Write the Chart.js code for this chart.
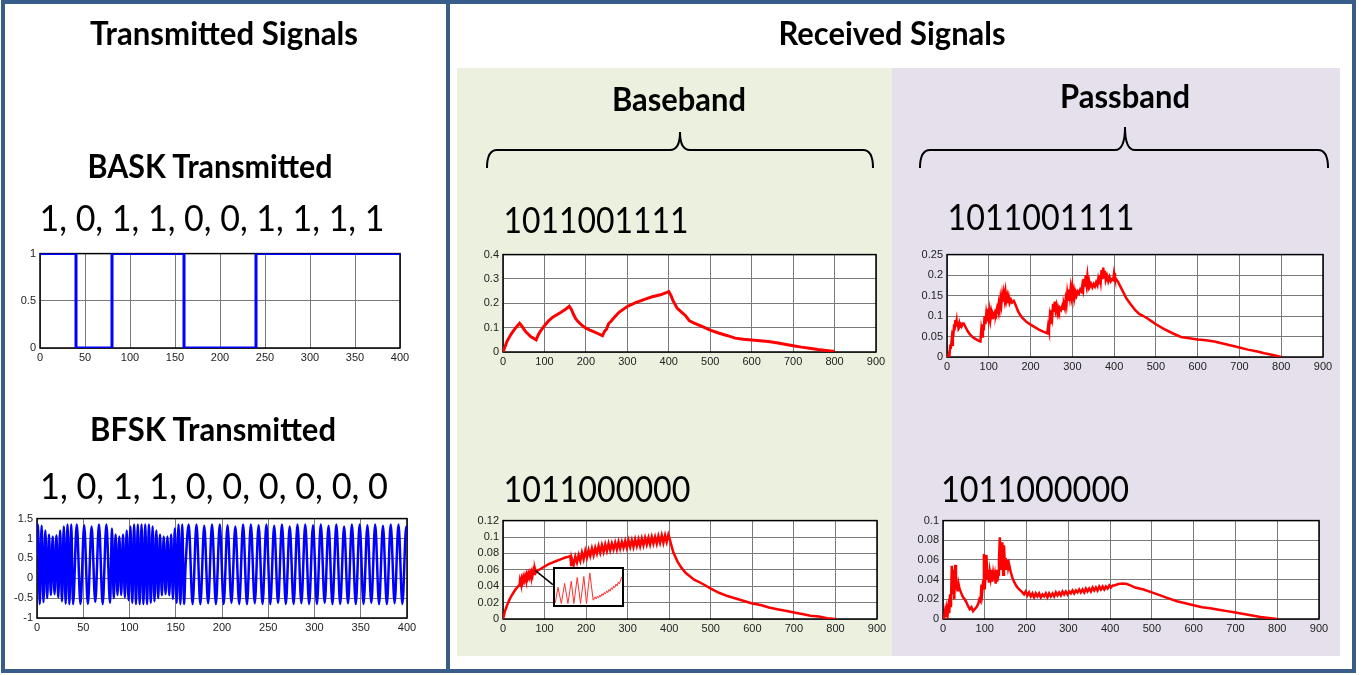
<!DOCTYPE html>
<html>
<head>
<meta charset="utf-8">
<script src="https://cdn.jsdelivr.net/npm/chart.js@4.4.1/dist/chart.umd.min.js"></script>
<style>
  body { margin: 0; background: #fff; }
  #wrap { position: relative; width: 1363px; height: 675px; overflow: hidden; }
  .frame { position: absolute; left: 1px; top: 0; width: 1355px; height: 673px; border: 4px solid #385d8a; box-sizing: border-box; }
  .divider { position: absolute; left: 446px; top: 0; width: 4px; height: 673px; background: #385d8a; }
  .band { position: absolute; top: 68px; height: 588px; }
  canvas { position: absolute; }
  svg { position: absolute; left: 0; top: 0; }
  .t { font-family: Lato, sans-serif; fill: #000; }
</style>
</head>
<body>
<div id="wrap">
  <div class="band" style="left:457px;width:435px;background:#ebf1de"></div>
  <div class="band" style="left:892px;width:448px;background:#e5e0ec"></div>
  <div class="frame"></div>
  <div class="divider"></div>
  <svg width="1363" height="675">
    <text class="t" x="224" y="45" font-size="32" font-weight="700" text-anchor="middle" textLength="268" lengthAdjust="spacingAndGlyphs">Transmitted Signals</text>
    <text class="t" x="892" y="45" font-size="32" font-weight="700" text-anchor="middle" textLength="227" lengthAdjust="spacingAndGlyphs">Received Signals</text>
    <text class="t" x="679" y="111" font-size="32" font-weight="700" text-anchor="middle" textLength="134" lengthAdjust="spacingAndGlyphs">Baseband</text>
    <text class="t" x="1125" y="108" font-size="32" font-weight="700" text-anchor="middle" textLength="130" lengthAdjust="spacingAndGlyphs">Passband</text>
    <text class="t" x="210" y="178" font-size="32" font-weight="700" text-anchor="middle" textLength="245" lengthAdjust="spacingAndGlyphs">BASK Transmitted</text>
    <text class="t" x="213" y="441" font-size="32" font-weight="700" text-anchor="middle" textLength="246" lengthAdjust="spacingAndGlyphs">BFSK Transmitted</text>
    <text class="t" x="212" y="231" font-size="36" text-anchor="middle" textLength="345" lengthAdjust="spacingAndGlyphs">1, 0, 1, 1, 0, 0, 1, 1, 1, 1</text>
    <text class="t" x="214" y="499" font-size="36" text-anchor="middle" textLength="348" lengthAdjust="spacingAndGlyphs">1, 0, 1, 1, 0, 0, 0, 0, 0, 0</text>
    <text class="t" x="596" y="233" font-size="36" text-anchor="middle" textLength="185" lengthAdjust="spacingAndGlyphs">1011001111</text>
    <text class="t" x="1041" y="230" font-size="36" text-anchor="middle" textLength="187" lengthAdjust="spacingAndGlyphs">1011001111</text>
    <text class="t" x="597" y="502" font-size="36" text-anchor="middle" textLength="187" lengthAdjust="spacingAndGlyphs">1011000000</text>
    <text class="t" x="1035" y="502" font-size="36" text-anchor="middle" textLength="188" lengthAdjust="spacingAndGlyphs">1011000000</text>
    <path d="M487,168 Q487,150 497,150 L670,150 Q680,150 680,132 Q680,150 690,150 L863,150 Q873,150 873,168" fill="none" stroke="#000" stroke-width="2"/>
    <path d="M920,168 Q920,150 930,150 L1115,150 Q1125,150 1125,127 Q1125,150 1135,150 L1318,150 Q1328,150 1328,168" fill="none" stroke="#000" stroke-width="2"/>
  </svg>
</div>
<script>
// ---- data ----
const baskX = [0, 40, 40, 80, 80, 160, 160, 240, 240, 400];
const baskY = [1, 1, 0, 0, 1, 1, 0, 0, 1, 1];
const baskXTicks = [0, 50, 100, 150, 200, 250, 300, 350, 400];
const baskYTicks = [0, 0.5, 1];

const bfskX = [0, 1, 3, 5, 7, 9, 11, 13, 15, 17, 19, 21, 23, 25, 27, 29, 31, 33, 35, 37, 39,
  43, 47, 51, 55, 59, 63, 67, 71, 75, 79,
  81, 83, 85, 87, 89, 91, 93, 95, 97, 99, 101, 103, 105, 107, 109, 111, 113, 115, 117, 119,
  121, 123, 125, 127, 129, 131, 133, 135, 137, 139, 141, 143, 145, 147, 149, 151, 153, 155, 157, 159,
  160.5, 164, 168.2, 172.4, 176.6, 180.8, 185, 189.2, 193.4, 197.6, 201.8, 206, 210.2, 214.4, 218.6,
  222.8, 227, 231.2, 235.4, 239.6, 243.8, 248, 252.2, 256.4, 260.6, 264.8, 269, 273.2, 277.4, 281.6,
  285.8, 290, 294.2, 298.4, 302.6, 306.8, 311, 315.2, 319.4, 323.6, 327.8, 332, 336.2, 340.4, 344.6,
  348.8, 353, 357.2, 361.4, 365.6, 369.8, 374, 378.2, 382.4, 386.6, 390.8, 395, 399.2, 400];
const bfskY = [0.6, 1.35, -0.65, 1.32, -0.6, 1.2, -0.5, 1.1, -0.42, 1.05, -0.4, 1.08, -0.48, 1.2, -0.58, 1.3, -0.64, 1.35, -0.65, 1.35, -0.65,
  1.35, -0.65, 1.33, -0.65, 1.3, -0.6, 1.35, -0.65, 1.35, -0.62,
  1.25, -0.5, 1.1, -0.42, 1.05, -0.42, 1.1, -0.48, 1.2, -0.55, 1.3, -0.62, 1.35, -0.65, 1.35, -0.65, 1.35, -0.65, 1.35, -0.65,
  1.35, -0.62, 1.3, -0.58, 1.2, -0.5, 1.1, -0.43, 1.05, -0.4, 1.05, -0.43, 1.1, -0.52, 1.25, -0.62, 1.35, -0.65, 1.35, -0.65,
  0.25, 1.35, -0.65, 1.35, -0.65, 1.32, -0.63, 1.35, -0.65, 1.35, -0.65, 1.33, -0.62, 1.3, -0.65,
  1.35, -0.65, 1.35, -0.63, 1.33, -0.65, 1.35, -0.65, 1.32, -0.62, 1.35, -0.65, 1.3, -0.65, 1.35,
  -0.63, 1.35, -0.65, 1.33, -0.65, 1.35, -0.62, 1.32, -0.65, 1.35, -0.65, 1.3, -0.63, 1.35, -0.65,
  1.35, -0.65, 1.33, -0.62, 1.35, -0.65, 1.32, -0.65, 1.35, -0.63, 1.35, -0.65, 1.3, 1.15];
const bfskXTicks = [0, 50, 100, 150, 200, 250, 300, 350, 400];
const bfskYTicks = [-1, -0.5, 0, 0.5, 1, 1.5];

const base1X = [0, 10, 20, 30, 40, 45, 50, 55, 60, 65, 70, 75, 80, 85, 90, 100, 110, 120, 130, 140, 150, 160,
  165, 170, 175, 180, 190, 200, 210, 220, 230, 240, 245, 250, 255, 260, 270, 280, 290, 300, 320, 340, 360, 380, 400,
  405, 410, 420, 430, 440, 450, 460, 480, 500, 520, 540, 560, 580, 600, 620, 640, 660, 680, 700, 720, 740, 760, 780, 800];
const base1Y = [0, 0.045, 0.075, 0.098, 0.118, 0.108, 0.095, 0.083, 0.075, 0.066, 0.06, 0.055, 0.05, 0.07, 0.085, 0.108, 0.128, 0.143, 0.153, 0.163, 0.174, 0.188,
  0.175, 0.155, 0.138, 0.127, 0.11, 0.098, 0.09, 0.083, 0.075, 0.067, 0.085, 0.095, 0.117, 0.125, 0.145, 0.163, 0.175, 0.187, 0.203, 0.215, 0.227, 0.235, 0.248,
  0.233, 0.212, 0.18, 0.165, 0.15, 0.128, 0.12, 0.105, 0.09, 0.078, 0.068, 0.057, 0.052, 0.049, 0.046, 0.043, 0.038, 0.032, 0.026, 0.02, 0.015, 0.01, 0.006, 0.002];
const base1YTicks = [0, 0.1, 0.2, 0.3, 0.4];

const pass1X = [0, 3, 5, 6, 8, 9, 11, 12, 14, 15, 17, 18, 20, 21, 23, 24, 26, 27, 29, 30, 33, 35, 38, 40,
  45, 50, 55, 60, 65, 70, 75, 80,
  82, 84, 86, 88, 90, 92, 94, 96, 98, 100, 102, 104, 106, 108, 110, 112, 115, 117, 120, 122, 124, 126, 128, 130,
  132, 134, 136, 138, 140, 142, 144, 146, 148, 150, 153, 156, 160,
  165, 170, 175, 180, 190, 200, 210, 220, 230, 240,
  242, 244, 246, 248, 250, 252, 254, 256, 258, 260, 262, 264, 266, 268, 270, 273, 276, 278, 280, 282, 284, 286, 288, 290,
  292, 294, 296, 298, 300, 302, 304, 306, 308, 310, 313, 316, 319, 322, 324, 326, 328, 330, 332, 334, 336, 338, 340, 342,
  345, 348, 351, 354, 357, 360, 362, 364, 366, 368, 370, 372, 374, 376, 378, 380, 383, 386, 389, 392, 395, 398, 400, 402,
  410, 420, 430, 440, 450, 460, 470, 480, 490, 500, 520, 540, 560, 580, 600, 620, 640, 660, 680, 700, 720, 740, 760, 780, 800];
const pass1Y = [0, 0.003, 0.01, 0.005, 0.03, 0.02, 0.04, 0.03, 0.065, 0.05, 0.08, 0.065, 0.09, 0.075, 0.088, 0.077, 0.085, 0.075, 0.082, 0.074, 0.08, 0.075, 0.082, 0.082,
  0.072, 0.062, 0.055, 0.05, 0.046, 0.043, 0.04, 0.038,
  0.065, 0.05, 0.08, 0.065, 0.1, 0.08, 0.105, 0.09, 0.118, 0.095, 0.112, 0.092, 0.108, 0.095, 0.105, 0.1, 0.11, 0.105, 0.12, 0.112, 0.13, 0.118, 0.142, 0.128,
  0.15, 0.135, 0.155, 0.14, 0.158, 0.138, 0.148, 0.132, 0.145, 0.132, 0.14, 0.133, 0.137,
  0.125, 0.112, 0.103, 0.096, 0.086, 0.079, 0.073, 0.067, 0.062, 0.058,
  0.075, 0.065, 0.095, 0.08, 0.115, 0.1, 0.13, 0.11, 0.135, 0.115, 0.125, 0.11, 0.12, 0.112, 0.12, 0.115, 0.125, 0.118, 0.128, 0.12, 0.14, 0.128, 0.155, 0.14,
  0.165, 0.148, 0.168, 0.15, 0.17, 0.15, 0.162, 0.148, 0.158, 0.15, 0.16, 0.155, 0.165, 0.16, 0.175, 0.165, 0.19, 0.172, 0.2, 0.18, 0.198, 0.175, 0.185, 0.172,
  0.178, 0.17, 0.178, 0.172, 0.182, 0.175, 0.19, 0.18, 0.2, 0.185, 0.212, 0.19, 0.218, 0.195, 0.21, 0.188, 0.198, 0.185, 0.195, 0.185, 0.19, 0.188, 0.205, 0.195,
  0.182, 0.162, 0.142, 0.128, 0.115, 0.105, 0.1, 0.094, 0.087, 0.08, 0.068, 0.058, 0.049, 0.046, 0.043, 0.041, 0.038, 0.033, 0.028, 0.023, 0.018, 0.014, 0.009, 0.005, 0];
const pass1YTicks = [0, 0.05, 0.1, 0.15, 0.2, 0.25];

const base2X = [0, 5, 10, 15, 20, 25, 30, 35, 40,
  41, 43, 45, 47, 49, 51, 53, 55, 57, 59, 61, 63, 65, 67, 69, 71, 73, 75, 77, 79,
  80, 90, 100, 110, 120, 130, 140, 150, 158, 162, 164,
  166, 170, 174, 178, 182, 186, 190, 194, 198, 202, 206, 210, 214, 218, 222, 226, 230, 234, 238, 242,
  246, 250, 254, 258, 262, 266, 270, 274, 278, 282, 286, 290, 294, 298, 302, 306, 310, 314, 318, 322,
  326, 330, 334, 338, 342, 346, 350, 354, 358, 362, 366, 370, 374, 378, 382, 386, 390, 394, 398, 400,
  405, 410, 420, 430, 440, 460, 480, 500, 520, 540, 560, 580, 600, 620, 640, 660, 680, 700, 720, 740, 760, 780, 800];
const base2Y = [0, 0.01, 0.017, 0.023, 0.028, 0.032, 0.036, 0.039, 0.042,
  0.047, 0.043, 0.049, 0.045, 0.051, 0.047, 0.052, 0.048, 0.054, 0.05, 0.055, 0.051, 0.056, 0.052, 0.057, 0.053, 0.059, 0.055, 0.061, 0.057,
  0.058, 0.061, 0.064, 0.067, 0.069, 0.071, 0.073, 0.075, 0.076, 0.077, 0.066,
  0.073, 0.066, 0.076, 0.069, 0.078, 0.071, 0.081, 0.073, 0.083, 0.075, 0.084, 0.077, 0.086, 0.078, 0.087, 0.08, 0.089, 0.081, 0.09, 0.082,
  0.091, 0.083, 0.092, 0.084, 0.092, 0.085, 0.093, 0.085, 0.094, 0.086, 0.094, 0.087, 0.095, 0.087, 0.096, 0.088, 0.096, 0.088, 0.097, 0.089,
  0.097, 0.089, 0.098, 0.09, 0.099, 0.091, 0.099, 0.091, 0.1, 0.092, 0.1, 0.092, 0.101, 0.093, 0.102, 0.093, 0.102, 0.094, 0.103, 0.1,
  0.09, 0.081, 0.07, 0.062, 0.056, 0.048, 0.043, 0.037, 0.032, 0.028, 0.025, 0.022, 0.019, 0.017, 0.014, 0.012, 0.01, 0.008, 0.006, 0.004, 0.003, 0.001, 0];
const base2YTicks = [0, 0.02, 0.04, 0.06, 0.08, 0.1, 0.12];

// zoomed-in detail shown in the inset box (relative units)
const insetX = [0, 4, 9, 14, 19, 24, 28, 33, 38, 43, 47, 52, 57, 58, 60, 61.5, 63.5, 65, 67, 68.5, 70.5, 72, 74, 75.5,
  77.5, 79, 81, 82.5, 84.5, 86, 88, 89.5, 91.5, 93, 95, 96.5, 98.5, 100];
const insetY = [5, 49, 3, 60, 3, 66, 3, 77, 3, 80, 3, 90, 13, 15, 22, 16, 24, 19, 27, 22, 31, 26, 35, 30,
  39, 34, 43, 38, 48, 43, 53, 48, 58, 53, 64, 59, 70, 78];

const pass2X = [0, 3, 5, 7, 9, 11, 13, 15, 17, 19, 21, 23, 25, 27, 29, 31, 33, 35, 37, 40, 44, 48, 52, 56, 60, 64, 68, 72, 76, 80,
  84, 87, 90, 92, 94, 96, 98, 100, 102, 104, 106, 108, 110, 112, 114, 116, 118, 120, 122, 124, 126, 128, 130, 132, 134, 136,
  138, 140, 142, 144, 146, 148, 150, 152, 154, 156, 158, 162, 166, 170, 175, 180, 185, 190,
  194, 198, 202, 206, 210, 214, 218, 222, 226, 230, 234, 238, 242, 246, 250, 254, 258, 262, 266, 270, 274, 278, 282, 286,
  290, 294, 298, 302, 306, 310, 314, 318, 322, 326, 330, 334, 338, 342, 346, 350, 354, 358, 362, 366, 370, 374, 378, 382,
  386, 390, 394, 398, 402, 406,
  410, 420, 430, 440, 450, 460, 480, 500, 520, 540, 560, 580, 600, 620, 640, 660, 680, 700, 720, 740, 760, 780, 800];
const pass2Y = [0, 0.002, 0.008, 0.002, 0.01, 0.004, 0.012, 0.006, 0.025, 0.012, 0.054, 0.025, 0.05, 0.02, 0.055, 0.03, 0.038, 0.028, 0.036, 0.03, 0.026, 0.022, 0.02, 0.017, 0.013, 0.01, 0.012, 0.008, 0.01, 0.012,
  0.015, 0.02, 0.018, 0.035, 0.028, 0.038, 0.066, 0.03, 0.05, 0.065, 0.04, 0.05, 0.037, 0.048, 0.042, 0.05, 0.038, 0.046, 0.04, 0.045, 0.036, 0.05, 0.038, 0.045, 0.06, 0.083,
  0.05, 0.06, 0.078, 0.045, 0.075, 0.055, 0.062, 0.05, 0.06, 0.052, 0.056, 0.048, 0.042, 0.038, 0.034, 0.031, 0.029, 0.027,
  0.025, 0.028, 0.024, 0.027, 0.023, 0.026, 0.022, 0.026, 0.023, 0.026, 0.022, 0.025, 0.023, 0.026, 0.022, 0.026, 0.023, 0.026, 0.023, 0.027, 0.024, 0.027, 0.024, 0.028,
  0.025, 0.028, 0.025, 0.028, 0.026, 0.029, 0.026, 0.029, 0.027, 0.03, 0.027, 0.03, 0.027, 0.031, 0.028, 0.031, 0.028, 0.032, 0.029, 0.032, 0.029, 0.033, 0.03, 0.033,
  0.03, 0.033, 0.031, 0.034, 0.032, 0.034,
  0.034, 0.0355, 0.036, 0.0355, 0.034, 0.032, 0.03, 0.027, 0.024, 0.021, 0.018, 0.016, 0.014, 0.012, 0.011, 0.0095, 0.008, 0.0065, 0.005, 0.0035, 0.002, 0.001, 0];
const pass2YTicks = [0, 0.02, 0.04, 0.06, 0.08, 0.1];

const rxXTicks = [0, 100, 200, 300, 400, 500, 600, 700, 800, 900];

// ---- drawing ----
const wrap = document.getElementById('wrap');
const YW = 40, PT = 8, PR = 16, XH = 18;
const tickFont = { family: 'Liberation Sans', size: 11 };

const plotFrame = {
  id: 'plotFrame',
  beforeDraw(chart) {
    const a = chart.chartArea, ctx = chart.ctx;
    ctx.save();
    ctx.fillStyle = '#fff';
    ctx.fillRect(a.left, a.top, a.right - a.left, a.bottom - a.top);
    ctx.restore();
  },
  beforeDatasetsDraw(chart) {
    const a = chart.chartArea, ctx = chart.ctx;
    ctx.save();
    ctx.strokeStyle = '#000';
    ctx.lineWidth = chart.options.frameWidth || 1.5;
    ctx.strokeRect(a.left, a.top, a.right - a.left, a.bottom - a.top);
    ctx.restore();
  }
};

function axis(ticks, isX) {
  return {
    type: 'linear',
    min: ticks[0],
    max: ticks[ticks.length - 1],
    afterBuildTicks: s => { s.ticks = ticks.map(v => ({ value: v })); },
    afterFit: s => { if (isX) s.height = XH; else s.width = YW; },
    grid: { color: '#7a7a7a', lineWidth: 1, drawTicks: false },
    border: { display: false },
    ticks: {
      padding: isX ? 3 : 4,
      maxRotation: 0,
      autoSkip: false,
      font: tickFont,
      color: '#222',
      callback: v => String(v)
    }
  };
}

function makeChart(box, xs, ys, xTicks, yTicks, color, width, extra) {
  const cv = document.createElement('canvas');
  const w = box.r - box.l + YW + PR, h = box.b - box.t + PT + XH;
  cv.width = w; cv.height = h;
  cv.style.left = (box.l - YW) + 'px';
  cv.style.top = (box.t - PT) + 'px';
  wrap.insertBefore(cv, wrap.querySelector('svg'));
  return new Chart(cv, {
    type: 'line',
    data: {
      datasets: [{
        data: xs.map((x, i) => ({ x: x, y: ys[i] })),
        borderColor: color,
        borderWidth: width,
        pointRadius: 0,
        fill: false,
        tension: 0,
        ...(extra || {})
      }]
    },
    options: {
      responsive: false,
      animation: false,
      devicePixelRatio: 1,
      layout: { padding: { left: 0, top: PT, right: PR, bottom: 0 } },
      plugins: { legend: { display: false }, tooltip: { enabled: false } },
      scales: { x: axis(xTicks, true), y: axis(yTicks, false) }
    },
    plugins: [plotFrame]
  });
}

makeChart({ l: 40, t: 251, r: 400, b: 348 }, baskX, baskY, baskXTicks, baskYTicks, '#0000ff', 3);
makeChart({ l: 37, t: 516, r: 407, b: 618 }, bfskX, bfskY, bfskXTicks, bfskYTicks, '#0000ff', 2.5,
  { cubicInterpolationMode: 'monotone' });
makeChart({ l: 503, t: 252, r: 876, b: 352 }, base1X, base1Y, rxXTicks, base1YTicks, '#ff0000', 3);
makeChart({ l: 947, t: 252, r: 1323, b: 357 }, pass1X, pass1Y, rxXTicks, pass1YTicks, '#ff0000', 2.5);
const base2 = makeChart({ l: 503, t: 518, r: 877, b: 619 }, base2X, base2Y, rxXTicks, base2YTicks, '#ff0000', 2.5);
makeChart({ l: 943, t: 518, r: 1319, b: 619 }, pass2X, pass2Y, rxXTicks, pass2YTicks, '#ff0000', 2.5);

// pointer from the curve to the inset box
base2.config.plugins.push({
  id: 'pointer',
  afterDraw(chart) {
    const sx = chart.scales.x, sy = chart.scales.y, ctx = chart.ctx;
    ctx.save();
    ctx.strokeStyle = '#000';
    ctx.lineWidth = 1.5;
    ctx.beginPath();
    ctx.moveTo(sx.getPixelForValue(78), sy.getPixelForValue(0.059));
    ctx.lineTo(sx.getPixelForValue(120), sy.getPixelForValue(0.042));
    ctx.stroke();
    ctx.restore();
  }
});
base2.update();

// inset with the zoomed oscillation
const ic = document.createElement('canvas');
ic.width = 71; ic.height = 40;
ic.style.left = '553px'; ic.style.top = '567px';
wrap.insertBefore(ic, wrap.querySelector('svg'));
new Chart(ic, {
  type: 'line',
  data: {
    datasets: [{
      data: insetX.map((x, i) => ({ x: x, y: insetY[i] })),
      borderColor: '#ff3030',
      borderWidth: 1,
      pointRadius: 0,
      tension: 0
    }]
  },
  options: {
    responsive: false,
    animation: false,
    devicePixelRatio: 1,
    frameWidth: 2,
    layout: { padding: 1 },
    plugins: { legend: { display: false }, tooltip: { enabled: false } },
    scales: {
      x: { type: 'linear', min: -2, max: 102, display: false },
      y: { type: 'linear', min: -4, max: 104, display: false }
    }
  },
  plugins: [plotFrame]
});
</script>
</body>
</html>
